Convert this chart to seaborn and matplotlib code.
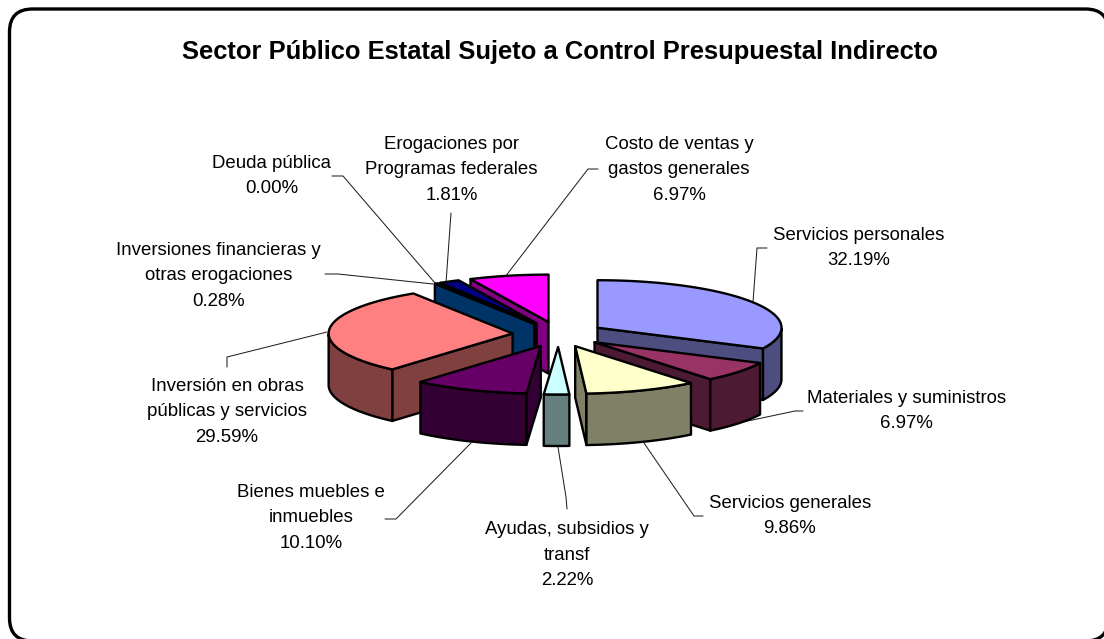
import numpy as np
import seaborn as sns
import matplotlib
matplotlib.use("Agg")
import matplotlib.pyplot as plt
from matplotlib.patches import FancyBboxPatch

# ---- data ----
categories = ["Servicios personales", "Materiales y suministros", "Servicios generales",
              "Ayudas, subsidios y\ntransf", "Bienes muebles e\ninmuebles",
              "Inversión en obras\npúblicas y servicios", "Inversiones financieras y\notras erogaciones",
              "Deuda pública", "Erogaciones por\nProgramas federales", "Costo de ventas y\ngastos generales"]
values = [32.19, 6.97, 9.86, 2.22, 10.10, 29.59, 0.28, 0.00, 1.81, 6.97]
top_colors = ["#9999FF", "#993366", "#FFFFCC", "#CCFFFF", "#660066",
              "#FF8080", "#0066CC", "#CCCCFF", "#000080", "#FF00FF"]
title = "Sector Público Estatal Sujeto a Control Presupuestal Indirecto"

# ---- layout ----
cx, cy = 558.5, 334.4
rx, ry = 184.0, 47.5
explode = 0.25
depth = 51.5
label_xy = [(858.5, 248), (906.5, 411), (790, 516), (567, 555), (311, 518),
            (227, 412), (218.5, 276), (271.5, 176), (451.5, 170), (679, 170)]
leaders = [[(767, 248), (757, 248), (753, 302)],
           [(803, 411), (795, 411), (743, 422)],
           [(703, 516), (694, 516), (644, 443)],
           [(567, 509), (566, 497), (558, 447)],
           [(385, 519), (396, 519), (471, 443)],
           [(227, 367), (227, 357), (327, 332)],
           [(325, 274), (338, 274), (433, 284)],
           [(332, 176), (343, 176), (435, 283)],
           [(451, 213), (446, 283)],
           [(598, 169), (588, 169), (505, 277)]]

sns.set_theme(style="white")
plt.rcParams["font.family"] = ["Liberation Sans", "DejaVu Sans"]

fig = plt.figure(figsize=(11.04, 6.39), dpi=100, facecolor="white")
ax = fig.add_axes([0, 0, 1, 1])
ax.set_xlim(0, 1104)
ax.set_ylim(639, 0)
ax.axis("off")

ax.add_patch(FancyBboxPatch((9.5, 9), 1099, 632, boxstyle="round,pad=0,rounding_size=23",
                            fc="white", ec="black", lw=2.4, zorder=0))

def darken(c):
    r, g, b = matplotlib.colors.to_rgb(c)
    return (r * 0.5, g * 0.5, b * 0.5)

edges = np.concatenate([[0], np.cumsum(values)]) / sum(values) * 2 * np.pi
slices = []
for i, v in enumerate(values):
    if v <= 0:
        continue
    slices.append((i, edges[i], edges[i + 1]))
slices.sort(key=lambda s: -np.cos((s[1] + s[2]) / 2))

lw = 1.7
z = 2
for i, a0, a1 in slices:
    mid = (a0 + a1) / 2
    ox = cx + explode * rx * np.sin(mid)
    oy = cy - explode * rx * 0.274 * np.cos(mid)
    ang = np.linspace(a0, a1, max(3, int((a1 - a0) * 60)))
    px = ox + rx * np.sin(ang)
    py = oy - ry * np.cos(ang)
    top = top_colors[i]
    side = darken(top)
    # cut walls seen by the viewer
    for a, sign in ((a0, -1), (a1, 1)):
        if sign * np.sin(a) > 0:
            ex, ey = ox + rx * np.sin(a), oy - ry * np.cos(a)
            ax.fill([ox, ex, ex, ox], [oy, ey, ey + depth, oy + depth],
                    fc=side, ec="black", lw=lw, joinstyle="round", zorder=z)
            z += 1
    # outer rim seen by the viewer
    mask = np.cos(ang) < 0
    if mask.any():
        ax.fill(np.r_[px[mask], px[mask][::-1]], np.r_[py[mask], py[mask][::-1] + depth],
                fc=side, ec="black", lw=lw, joinstyle="round", zorder=z)
        z += 1
    # top face
    ax.fill(np.r_[ox, px], np.r_[oy, py], fc=top, ec="black", lw=lw, joinstyle="round", zorder=z)
    z += 1

for pts in leaders:
    xs, ys = zip(*pts)
    ax.plot(xs, ys, color="#222222", lw=0.75, zorder=1)

for name, v, (x, y) in zip(categories, values, label_xy):
    ax.text(x, y, f"{name}\n{v:.2f}%", ha="center", va="center", fontsize=13.4,
            linespacing=1.62, color="black", zorder=200)

ax.text(559.5, 52.5, title, ha="center", va="center", fontsize=18.4, fontweight="bold", color="black", zorder=200)

fig.savefig("out.png", dpi=100, facecolor="white")
